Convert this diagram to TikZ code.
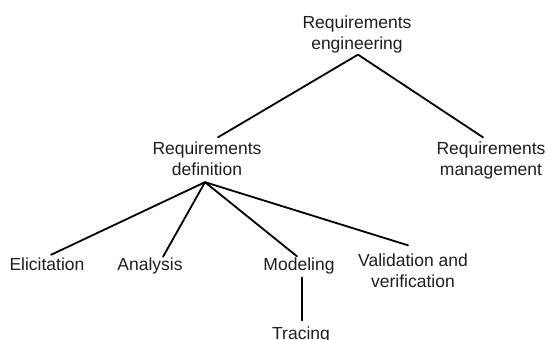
\documentclass[tikz,border=0pt]{standalone}
\usepackage{fontspec}
\setmainfont{Liberation Sans}
\begin{document}
\begin{tikzpicture}[x=1pt, y=1pt,
  term/.style={inner sep=0pt, outer sep=0pt, align=center, anchor=base,
    text=black!88, font=\fontsize{17.5}{21}\selectfont},
  branch/.style={line width=1.8pt, line cap=round, black}]
  \useasboundingbox[fill=white] (0,0) rectangle (549,-340);

  % tree labels (base = baseline of the last line)
  \node[term] (re) at (357,-49)  {Requirements\\engineering};
  \node[term] (rd) at (207,-175) {Requirements\\definition};
  \node[term] (rm) at (491,-175) {Requirements\\management};
  \node[term] (el) at (47,-270)  {Elicitation};
  \node[term] (an) at (150,-270) {Analysis};
  \node[term] (mo) at (299,-270) {Modeling};
  \node[term] (vv) at (413,-287) {Validation and\\verification};
  \node[term] (tr) at (301,-339) {Tracing};

  % branches
  \draw[branch] ([shift={(1,-2)}]re.south) -- ([shift={(11,4)}]rd.north);
  \draw[branch] ([shift={(1,-2)}]re.south) -- ([shift={(-8,4)}]rm.north);
  \draw[branch] ([shift={(-2,-7)}]rd.south) -- ([shift={(4,2.5)}]el.north);
  \draw[branch] ([shift={(-2,-7)}]rd.south) -- ([shift={(13,0.5)}]an.north);
  \draw[branch] ([shift={(-2,-7)}]rd.south) -- ([shift={(-2,1)}]mo.north);
  \draw[branch] ([shift={(-2,-7)}]rd.south) -- ([shift={(-5,8)}]vv.north);
  \draw[branch] ([shift={(3,-4)}]mo.south) -- ([shift={(1,6)}]tr.north);
\end{tikzpicture}
\end{document}
